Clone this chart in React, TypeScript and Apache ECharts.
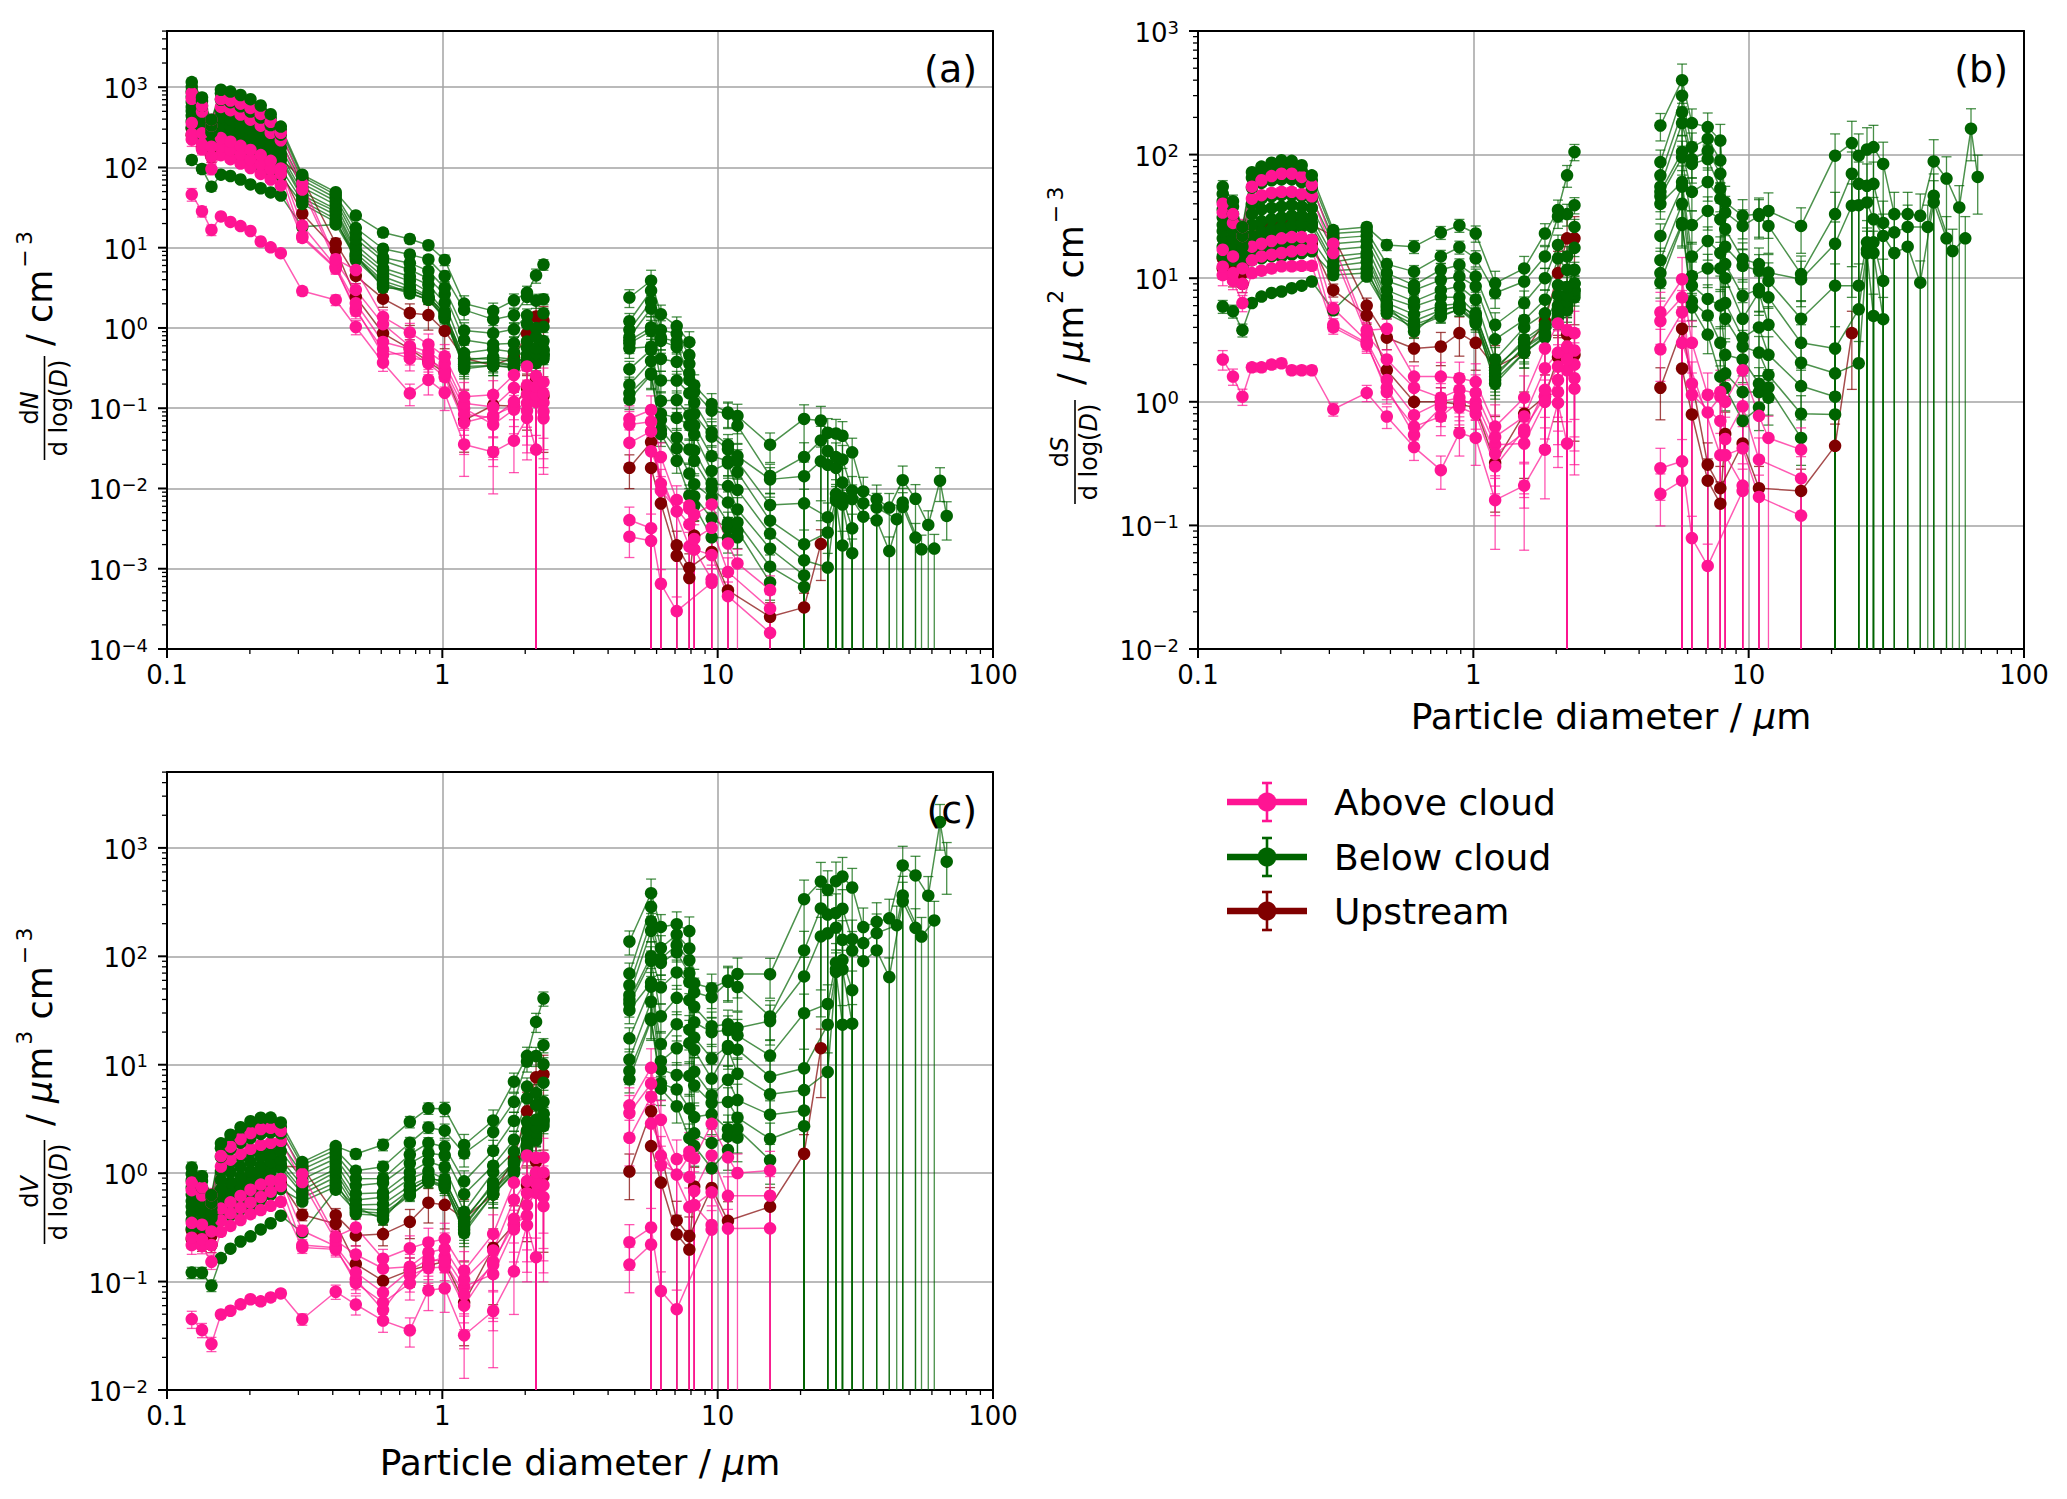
import React, { useEffect, useRef } from "react";
import * as echarts from "echarts";

const n = null;
const FONT = "DejaVu Sans";

// particle diameters (µm)
const diameterFine = [0.123, 0.134, 0.145, 0.157, 0.170, 0.185, 0.201, 0.219, 0.238, 0.259, 0.310, 0.410, 0.485, 0.609, 0.762, 0.890, 1.02, 1.20, 1.53, 1.82, 2.03, 2.19, 2.33];
const diameterCoarse = [4.78, 5.73, 6.22, 7.10, 7.89, 8.22, 9.51, 10.9, 11.8, 15.5, 20.6, 23.7, 25.1, 26.9, 28.4, 30.8, 33.8, 37.8, 42.0, 44.7, 47.0, 52.3, 55.0, 58.2, 61.2, 64.2, 67.9];

// dS/dlog(D) in µm² cm⁻³
const belowFine01 = [55, 42, 26, 72, 80, 86, 90, 89, 82, 68, 24.5, 26, 18.6, 18, 23.4, 26.7, 23, 9.1, 12, 23, 35.7, 68, 105];
const belowCoarse01 = [172, 400, 180, 167, 130, 41, 32, 33, 35, 26.5, 98, 124, 98, 110, 115, 84, 33, 33, 32, n, 88, 64, n, 37.4, n, 162, 66];
const belowFine02 = [48, 38, 25, 65, 72, 78, 80, 78, 74, 62, 23, 24, 13, 11.3, 15, 17.8, 14.5, 7.6, 9.4, 15, 31.6, 33, 39];
const belowCoarse02 = [87, 300, 115, 134, 90, 34, 26.5, 32, 26.5, 10.8, 33, 70, 58, 56, 58, 28, 23.5, 26, n, 26, 46.5, n, 16.6, n, 21];
const belowFine03 = [42, 33, 22, 54, 59, 62, 63, 63, 60, 54, 21, 22, 11, 8.8, 11.7, 12.8, 10.3, 4.2, 6.3, 10, 18.6, 15, 26];
const belowCoarse03 = [68, 220, 92, 107, 70, 25, 14.3, 13, 11.1, 9.8, 19, 38.6, 39, 41, 30, 22, 16, 18, 9.2, n, 41, 21];
const belowFine04 = [36, 30, 20, 40, 44, 46, 47, 47, 46, 44, 19, 20, 9.5, 8, 9.7, 10.3, 8.6, 3.2, 4.6, 6.7, 14.5, 11.7, 17.6];
const belowCoarse04 = [55, 180, 84, 92, 53, 18, 12.6, 11.5, 9.5, 4.7, 8.7, n, 8.7, 19.5, 19.5, 9.5];
const belowFine05 = [31, 27, 18, 33, 36, 37, 38, 39, 38, 37, 17, 18, 8, 6.5, 8, 8.6, 6.7, 2.2, 4.0, 5.2, 8.8, 8.5, 11.7];
const belowCoarse05 = [50, 105, 50, 60, 44, 13, 7.2, 8.2, 7, 3, 2.7, n, 5.6, 17, 16, 4.66];
const belowFine06 = [27, 24, 17, 27, 29, 30, 31, 32, 32, 31, 15, 16, 7, 5.9, 7, 7, 5.2, 1.8, 3.2, 4.2, 7.3, 7.3, 9.1];
const belowCoarse06 = [46, 95, 27, 35, 30, 10, 4.7, 7.7, 4.2, 2.07, 1.7, n, 2.05, 16, 4.95];
const belowFine07 = [24, 21, 16, 22, 24, 25, 26, 27, 28, 28, 13.5, 15, 6.3, 5.1, 6, 6.2, 4.8, 1.6, 2.8, 3.6, 6, 6.5, 8];
const belowCoarse07 = [40, 60, 15, 20, 16, 6.3, 3.3, 4, 2.4, 1.34, 1.1];
const belowFine08 = [21, 19, 15, 19, 21, 23, 24.5, 25, 26, 26, 12.5, 13.5, 5.8, 4.5, 5.5, 5.9, 4.5, 1.4, 2.5, 3.4, 5.5, 6, 7.5];
const belowCoarse08 = [22, 55, 10.4, 12, 12, 4.7, 2.8, 2.5, 1.65, 0.8, 0.79];
const belowFine09 = [18, 16, 13, 16, 17, 18, 18.6, 19.5, 20, 20.5, 11.5, 12, 5.2, 4, 4.9, 5.6, 4.3, 1.5, 2.5, 3.3, 4.8, 5.5, 7];
const belowCoarse09 = [14, 40, 8.7, 6.8, 6, 2.4, 2.2, 1.4, 1.3, 0.51];
const belowFine10 = [15, 14, 12, 14, 14.5, 15, 15, 15.5, 16, 16.5, 10.6, 11, 6, 3.7, 5.5, 6, 5, 1.9, 3, 4, 5.2, 6.2, 9];
const belowCoarse10 = [11, 28, 6.5, 5, 3, 1.7, 1.2, 1.2, 1.08];
const belowFine11 = [5.9, 5.4, 3.8, 6.3, 7.1, 7.6, 7.8, 8.3, 8.7, 9.4, 5.5, 10.3, 5.5, 4.2, 5, 5.6, 4.5, 1.7, 2.7, 3.5, 5, 6, 8];
const belowCoarse11 = [9.2, 27, 5.8, 3.5, 1.6, 1.3, 0.7, 0.9];

const aboveFine01 = [40, 33, 26, 55, 62, 67, 70, 70, 66, 57, 19, 3.8, 3.9, 1.6, 1.6, 1.55, 1.45, 0.63, 1.08, 2.7, 4.3, 3.8, 3.6];
const aboveCoarse01 = [5.3, 9.8, 3.0, 1.14, 1.2, 1.0, 1.8, 0.77, 0.51, 0.41];
const aboveFine02 = [34, 28, 22, 44, 47, 49, 50, 50, 48, 46, 16, 3.5, 2.2, 1.3, 1.08, 1.25, 1.18, 0.52, 0.76, 1.87, 2.5, 2.8, 2.6];
const aboveCoarse02 = [4.5, 7.0, 1.4, 0.82, 1.1, 0.5, 0.92, 0.34, n, 0.24];
const aboveFine03 = [17, 15, 12, 18, 19, 20, 21, 21.5, 21.5, 20.5, 5.7, 3.1, 1.5, 0.78, 1.0, 1.08, 0.9, 0.38, 0.56, 1.25, 1.93, 2.2, 1.55];
const aboveCoarse03 = [2.66, 5.3, 1.14, n, 0.7, 0.37, 0.42, 0.17, n, 0.12];
const aboveFine04 = [12.4, 11, 9, 14, 15, 15.5, 16, 16.5, 17, 17.6, 4.2, 3.0, 1.2, 0.63, 0.76, 1.0, 1.0, 0.45, 0.46, 1.0, 1.5, 1.8, 2.0];
const aboveCoarse04 = [n, 3.0, n, n, 0.37, 0.37, 0.21];
const aboveFine05 = [10.6, 9.5, 6.3, 11, 11.5, 12, 12.5, 12.5, 12.6, 12.6, 4.0, 2.9, 1.3, 0.54, 0.9, 0.9, 0.8, 0.3, 0.6, 1.1, 1.2, 2.4, 1.28];
const aboveCoarse05 = [0.29, 0.33, 0.079, 0.047, n, n, 0.19];
const aboveFine06 = [2.2, 1.6, 1.1, 1.9, 1.9, 2.0, 2.05, 1.8, 1.8, 1.8, 0.87, 1.18, 0.76, 0.43, 0.28, 0.56, 0.51, 0.16, 0.21, 0.41, 0.98, 0.46, n];
const aboveCoarse06 = [0.18, 0.23];

const upFine01 = [14.5, 13, 11, 22, 25, 27, 29, 29, 28, 27, 22, 6.0, 3.3, 2.7, 2.8, 3.6, 3.0, 1.9, 2.5, 4.5, 11, 21, 21];
const upCoarse01 = [1.3, 3.9, n, 0.31, 0.2, n, 0.46, 0.2, n, 0.19, 0.44, 3.6];
const upFine02 = [12, 10, 9, 16, 18, 19, 20, 20, 20, 19, 8, 5, 1.8, 1.0, 1.0, 0.95, 0.9, 0.32, 0.8, 1.1, 2.3, 3.5, 2.4];
const upCoarse02 = [n, 1.86, 0.79, 0.23, 0.15, 0.55];

// relative uncertainties per size bin
const errFineBelow = [0.12, 0.12, 0.12, 0.06, 0.06, 0.06, 0.06, 0.06, 0.06, 0.06, 0.08, 0.08, 0.1, 0.12, 0.12, 0.12, 0.15, 0.25, 0.25, 0.2, 0.2, 0.2, 0.15];
const errFineAbove = [0.18, 0.15, 0.15, 0.08, 0.08, 0.08, 0.08, 0.08, 0.08, 0.08, 0.12, 0.15, 0.2, 0.22, 0.3, 0.35, 0.4, 0.6, 0.7, 0.6, 0.7, 1.0, 0.8];
const errCoarseBelow = [0.25, 0.35, 0.3, 0.3, 0.35, 0.35, 0.35, 0.35, 0.4, 0.4, 1, 0.9, 1, 1, 1, 1, 1, 1, 1, 1, 1, 1, 1, 1, 1, 0.45, 0.5];
const errCoarseAbove = [0.45, 1, 1, 1, 1, 1, 1, 1, 1, 1, 1, 0.65, 1, 1, 1, 1, 1, 1, 1, 1, 1, 1, 1, 1, 1, 1, 1];

type Kind = "above" | "below" | "up";
const COLOR: Record<Kind, string> = { above: "#ff1493", below: "#006400", up: "#800000" };
const FADED: Record<Kind, string> = { above: "rgba(255,20,147,0.72)", below: "rgba(0,100,0,0.72)", up: "rgba(128,0,0,0.72)" };

const profiles: { kind: Kind; fine: (number | null)[]; coarse: (number | null)[] }[] = [
  { kind: "up", fine: upFine01, coarse: upCoarse01 },
  { kind: "up", fine: upFine02, coarse: upCoarse02 },
  { kind: "below", fine: belowFine11, coarse: belowCoarse11 },
  { kind: "above", fine: aboveFine06, coarse: aboveCoarse06 },
  { kind: "below", fine: belowFine10, coarse: belowCoarse10 },
  { kind: "below", fine: belowFine09, coarse: belowCoarse09 },
  { kind: "above", fine: aboveFine05, coarse: aboveCoarse05 },
  { kind: "below", fine: belowFine08, coarse: belowCoarse08 },
  { kind: "above", fine: aboveFine04, coarse: aboveCoarse04 },
  { kind: "below", fine: belowFine07, coarse: belowCoarse07 },
  { kind: "below", fine: belowFine06, coarse: belowCoarse06 },
  { kind: "above", fine: aboveFine03, coarse: aboveCoarse03 },
  { kind: "below", fine: belowFine05, coarse: belowCoarse05 },
  { kind: "below", fine: belowFine04, coarse: belowCoarse04 },
  { kind: "above", fine: aboveFine02, coarse: aboveCoarse02 },
  { kind: "below", fine: belowFine03, coarse: belowCoarse03 },
  { kind: "below", fine: belowFine02, coarse: belowCoarse02 },
  { kind: "above", fine: aboveFine01, coarse: aboveCoarse01 },
  { kind: "below", fine: belowFine01, coarse: belowCoarse01 },
];

type Moment = "N" | "S" | "V";
const PANELS: { letter: string; moment: Moment; left: number; top: number; yMin: number; yMax: number }[] = [
  { letter: "(a)", moment: "N", left: 167, top: 31, yMin: 1e-4, yMax: Math.pow(10, 3.7) },
  { letter: "(b)", moment: "S", left: 1198, top: 31, yMin: 1e-2, yMax: 1e3 },
  { letter: "(c)", moment: "V", left: 167, top: 772, yMin: 1e-2, yMax: Math.pow(10, 3.7) },
];
const GW = 826;
const GH = 618;

function convert(m: Moment, D: number, s: number) {
  if (m === "N") return s / (Math.PI * D * D);
  if (m === "V") return (s * D) / 6;
  return s;
}

function xFmt(v: number) {
  const l = Math.log10(v);
  const e = Math.round(l);
  if (Math.abs(l - e) > 0.01) return "";
  return e === -1 ? "0.1" : String(Math.pow(10, e));
}
function yFmt(v: number) {
  const l = Math.log10(v);
  const e = Math.round(l);
  if (Math.abs(l - e) > 0.01) return "";
  const s = e < 0 ? "\u2212" + -e : String(e);
  return `{b|10}{s|${s}}`;
}

function buildOption() {
  const grid: any[] = [];
  const xAxis: any[] = [];
  const yAxis: any[] = [];
  const series: any[] = [];
  const graphic: any[] = [];

  PANELS.forEach((p, pi) => {
    grid.push({ left: p.left, top: p.top, width: GW, height: GH, containLabel: false });
    xAxis.push({
      type: "log", logBase: 10, gridIndex: pi, min: 0.1, max: 100, position: "bottom",
      axisLine: { show: true, onZero: false, lineStyle: { color: "#000", width: 2 } },
      axisTick: { show: false }, minorTick: { show: false },
      axisLabel: { show: true, interval: 0, showMinLabel: true, showMaxLabel: true, margin: 13, formatter: xFmt, fontSize: 26, fontFamily: FONT, color: "#000" },
      splitLine: { show: true, lineStyle: { color: "#a3a3a3", width: 1.5 } },
    });
    xAxis.push({
      type: "value", gridIndex: pi, min: 0, max: 1, position: "top", z: 5,
      axisLine: { show: true, onZero: false, lineStyle: { color: "#000", width: 2 } },
      axisTick: { show: false }, axisLabel: { show: false }, splitLine: { show: false },
    });
    yAxis.push({
      type: "log", logBase: 10, gridIndex: pi, min: p.yMin, max: p.yMax, position: "left",
      axisLine: { show: true, onZero: false, lineStyle: { color: "#000", width: 2 } },
      axisTick: { show: false }, minorTick: { show: false },
      axisLabel: {
        show: true, interval: 0, showMinLabel: true, showMaxLabel: true, margin: 19, formatter: yFmt,
        rich: {
          b: { fontSize: 26, fontFamily: FONT, color: "#000", lineHeight: 30, verticalAlign: "bottom" },
          s: { fontSize: 18, fontFamily: FONT, color: "#000", lineHeight: 22, padding: [0, 0, 10, 0], verticalAlign: "bottom" },
        },
      },
      splitLine: { show: true, lineStyle: { color: "#a3a3a3", width: 1.5 } },
    });
    yAxis.push({
      type: "value", gridIndex: pi, min: 0, max: 1, position: "right", z: 5,
      axisLine: { show: true, onZero: false, lineStyle: { color: "#000", width: 2 } },
      axisTick: { show: false }, axisLabel: { show: false }, splitLine: { show: false },
    });

    const xi = 2 * pi;
    const yi = 2 * pi;

    // error bars
    const errItems: Record<Kind, any[]> = { above: [], below: [], up: [] };
    profiles.forEach((prof) => {
      const eF = prof.kind === "below" ? errFineBelow : errFineAbove;
      const eC = prof.kind === "below" ? errCoarseBelow : errCoarseAbove;
      const add = (D: number, s: number | null | undefined, r: number) => {
        if (s == null) return;
        const v = convert(p.moment, D, s);
        const loRaw = v * (1 - r);
        const clipped = loRaw <= p.yMin;
        const lo = clipped ? p.yMin : loRaw;
        const hi = Math.min(v * (1 + Math.min(r, 0.5)), p.yMax);
        errItems[prof.kind].push([D, lo, hi, clipped ? 0 : 1]);
      };
      diameterFine.forEach((D, i) => add(D, prof.fine[i], eF[i]));
      diameterCoarse.forEach((D, i) => add(D, prof.coarse[i], eC[i]));
    });
    (["up", "below", "above"] as Kind[]).forEach((k) => {
      series.push({
        type: "custom", xAxisIndex: xi, yAxisIndex: yi, z: 2, silent: true, clip: false,
        encode: { x: 0, y: [1, 2] },
        data: errItems[k],
        renderItem: (params: any, api: any) => {
          const x = api.value(0);
          const a = api.coord([x, api.value(1)]);
          const b = api.coord([x, api.value(2)]);
          const st = { stroke: FADED[k], lineWidth: 1.3, fill: null };
          const ch: any[] = [
            { type: "line", shape: { x1: a[0], y1: a[1], x2: b[0], y2: b[1] }, style: st },
            { type: "line", shape: { x1: b[0] - 5, y1: b[1], x2: b[0] + 5, y2: b[1] }, style: st },
          ];
          if (api.value(3) === 1) ch.push({ type: "line", shape: { x1: a[0] - 5, y1: a[1], x2: a[0] + 5, y2: a[1] }, style: st });
          return { type: "group", children: ch };
        },
      });
    });

    // profile lines
    profiles.forEach((prof) => {
      const data: any[] = [];
      diameterFine.forEach((D, i) => {
        const s = prof.fine[i];
        if (s != null) data.push([D, convert(p.moment, D, s)]);
      });
      data.push([3.3, null]);
      diameterCoarse.forEach((D, i) => {
        const s = prof.coarse[i];
        if (s != null) data.push([D, convert(p.moment, D, s)]);
      });
      series.push({
        type: "line", xAxisIndex: xi, yAxisIndex: yi, z: 3, silent: true, connectNulls: false,
        symbol: "circle", symbolSize: 12.5, showSymbol: true, showAllSymbol: true,
        itemStyle: { color: COLOR[prof.kind], borderWidth: 0 },
        lineStyle: { color: COLOR[prof.kind], width: 1.5, opacity: 0.7 },
        emphasis: { disabled: true },
        data,
      });
    });

    // ticks (major + minor, log spaced)
    const xt: any[] = [];
    for (let e = -1; e <= 2; e++) {
      for (let k = 1; k <= 9; k++) {
        const v = k * Math.pow(10, e);
        if (v > 100.0001) break;
        xt.push([v, p.yMin, k === 1 ? 1 : 0]);
      }
    }
    const yt: any[] = [];
    const e0 = Math.round(Math.log10(p.yMin));
    for (let e = e0; e <= 4; e++) {
      for (let k = 1; k <= 9; k++) {
        const v = k * Math.pow(10, e);
        if (v > p.yMax * 1.0001) break;
        yt.push([0.1, v, k === 1 ? 1 : 0]);
      }
    }
    const tick = (items: any[], dir: "x" | "y") => ({
      type: "custom", xAxisIndex: xi, yAxisIndex: yi, z: 6, silent: true, clip: false,
      data: items,
      renderItem: (params: any, api: any) => {
        const c = api.coord([api.value(0), api.value(1)]);
        const major = api.value(2) === 1;
        const len = major ? 9 : 5;
        const shape = dir === "x" ? { x1: c[0], y1: c[1], x2: c[0], y2: c[1] + len } : { x1: c[0] - len, y1: c[1], x2: c[0], y2: c[1] };
        return { type: "line", shape, style: { stroke: "#000", lineWidth: major ? 2 : 1.3 } };
      },
    });
    series.push(tick(xt, "x"));
    series.push(tick(yt, "y"));

    // panel letter
    graphic.push({
      type: "text", x: p.left + GW - 16, y: p.top + 38, z: 20,
      style: { text: p.letter, fontSize: 38, fontFamily: FONT, fill: "#000", align: "right", verticalAlign: "middle", textAlign: "right", textVerticalAlign: "middle" },
    });
  });

  // y-axis titles (rotated)
  const unitRich = {
    n: { fontSize: 35, fontFamily: FONT, color: "#000", lineHeight: 40, verticalAlign: "bottom" },
    i: { fontSize: 35, fontFamily: FONT, fontStyle: "italic", color: "#000", lineHeight: 40, verticalAlign: "bottom" },
    s: { fontSize: 22, fontFamily: FONT, color: "#000", lineHeight: 24, padding: [0, 0, 22, 2], verticalAlign: "bottom" },
  };
  const fracRich = {
    u: { fontSize: 24, fontFamily: FONT, color: "#000" },
    i: { fontSize: 24, fontFamily: FONT, fontStyle: "italic", color: "#000" },
  };
  const yTitle = (cx: number, cy: number, letter: string, unit: string, fx: number, tx: number) => ({
    type: "group", x: cx, y: cy, rotation: Math.PI / 2, z: 20,
    children: [
      { type: "text", x: fx, y: -15, style: { text: `{u|d}{i|${letter}}`, rich: fracRich, align: "center", verticalAlign: "middle", textAlign: "center", textVerticalAlign: "middle" } },
      { type: "line", shape: { x1: fx - 52, y1: 0, x2: fx + 52, y2: 0 }, style: { stroke: "#000", lineWidth: 1.6 } },
      { type: "text", x: fx, y: 14, style: { text: "{u|d log(}{i|D}{u|)}", rich: fracRich, align: "center", verticalAlign: "middle", textAlign: "center", textVerticalAlign: "middle" } },
      { type: "text", x: tx, y: -7, style: { text: unit, rich: unitRich, align: "left", verticalAlign: "middle", textAlign: "left", textVerticalAlign: "middle" } },
    ],
  });
  const SUPM3 = "{s|\u2212\u20093}";
  graphic.push(yTitle(44.5, 342, "N", "{n|/ cm}" + SUPM3, -66, -4));
  graphic.push(yTitle(1075, 342, "S", "{n|/ }{i|\u03bc}{n|m}{s|2}{n| cm}" + SUPM3, -110, -43));
  graphic.push(yTitle(44.5, 1081, "V", "{n|/ }{i|\u03bc}{n|m}{s|3}{n| cm}" + SUPM3, -111, -45));

  // x-axis titles
  const xTitle = (cx: number, cy: number) => ({
    type: "text", x: cx, y: cy, z: 20,
    style: {
      text: "{n|Particle diameter / }{i|\u03bc}{n|m}",
      rich: {
        n: { fontSize: 36, fontFamily: FONT, color: "#000" },
        i: { fontSize: 36, fontFamily: FONT, fontStyle: "italic", color: "#000" },
      },
      align: "center", verticalAlign: "middle", textAlign: "center", textVerticalAlign: "middle",
    },
  });
  graphic.push(xTitle(1611, 716));
  graphic.push(xTitle(580, 1462));

  // legend
  const legendRows: [string, Kind, number][] = [
    ["Above cloud", "above", 802],
    ["Below cloud", "below", 857],
    ["Upstream", "up", 911],
  ];
  legendRows.forEach(([label, kind, y]) => {
    const c = COLOR[kind];
    graphic.push({ type: "line", z: 20, shape: { x1: 1227, y1: y, x2: 1307, y2: y }, style: { stroke: c, lineWidth: 6.5 } });
    graphic.push({ type: "line", z: 20, shape: { x1: 1267, y1: y - 19, x2: 1267, y2: y + 19 }, style: { stroke: c, lineWidth: 2.6 } });
    graphic.push({ type: "line", z: 20, shape: { x1: 1262, y1: y - 19, x2: 1272, y2: y - 19 }, style: { stroke: c, lineWidth: 2.6 } });
    graphic.push({ type: "line", z: 20, shape: { x1: 1262, y1: y + 19, x2: 1272, y2: y + 19 }, style: { stroke: c, lineWidth: 2.6 } });
    graphic.push({ type: "circle", z: 21, shape: { cx: 1267, cy: y, r: 9.5 }, style: { fill: c } });
    graphic.push({
      type: "text", x: 1334, y, z: 20,
      style: { text: label, fontSize: 36, fontFamily: FONT, fill: "#000", align: "left", verticalAlign: "middle", textAlign: "left", textVerticalAlign: "middle" },
    });
  });

  return {
    animation: false,
    backgroundColor: "#ffffff",
    textStyle: { fontFamily: FONT },
    grid,
    xAxis,
    yAxis,
    series,
    graphic: { elements: graphic },
  };
}

export default function App() {
  const ref = useRef<HTMLDivElement>(null);
  useEffect(() => {
    if (!ref.current) return;
    const chart = echarts.init(ref.current, undefined, { renderer: "svg" });
    chart.setOption(buildOption() as any);
    return () => chart.dispose();
  }, []);
  return (
    <div
      ref={ref}
      style={{ position: "fixed", left: 0, top: 0, width: 2067, height: 1499, background: "#fff" }}
    />
  );
}
